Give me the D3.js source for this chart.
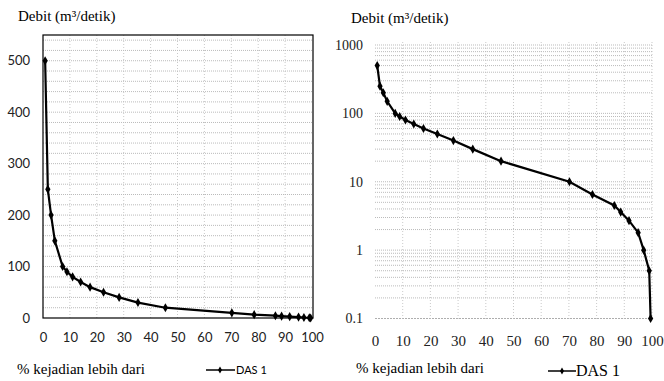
<!DOCTYPE html>
<html>
<head>
<meta charset="utf-8">
<script src="https://cdn.jsdelivr.net/npm/d3@7"></script>
<style>
  body { margin: 0; background: #fff; }
  svg { display: block; }
</style>
</head>
<body>
<svg id="chart" width="664" height="381"></svg>
<script>
// flow duration curve, DAS 1
const pct = [0.8, 1.8, 3, 4.4, 7.3, 8.9, 11, 14, 17.5, 22.5, 28.3, 35.3, 45.5, 70.2, 78.5, 86.4, 88.7, 91.7, 95, 97, 99, 99.5];
const debit = [500, 250, 200, 150, 100, 90, 80, 70, 60, 50, 40, 30, 20, 10, 6.5, 4.5, 3.6, 2.7, 1.8, 1, 0.5, 0.1];

const xTicks = [0, 10, 20, 30, 40, 50, 60, 70, 80, 90, 100];
const linYTicks = [0, 100, 200, 300, 400, 500];
const logYTicks = [0.1, 1, 10, 100, 1000];

const titleText = 'Debit (m³/detik)';
const xLabelText = '% kejadian lebih dari';
const seriesName = 'DAS 1';

const SERIF = 'Liberation Serif';
const SANS = 'Lato';

const points = pct.map((p, i) => ({ x: p, y: debit[i] }));
const svg = d3.select('#chart');

// ---------- left chart (linear) ----------
const xL = d3.scaleLinear().domain([0, 100]).range([43, 312]);
const yL = d3.scaleLinear().domain([0, 550]).range([318, 35]);

const gL = svg.append('g');

// gridlines
gL.selectAll('.hgrid')
  .data(d3.range(20, 550, 20))
  .enter().append('line')
  .attr('x1', 43).attr('x2', 313)
  .attr('y1', d => yL(d)).attr('y2', d => yL(d))
  .attr('stroke', '#aaa').attr('stroke-width', 0.8)
  .attr('stroke-dasharray', '1,1');

gL.selectAll('.vgrid')
  .data(xTicks.slice(1, -1))
  .enter().append('line')
  .attr('x1', d => xL(d)).attr('x2', d => xL(d))
  .attr('y1', 35).attr('y2', 318)
  .attr('stroke', '#bbb').attr('stroke-width', 0.8)
  .attr('stroke-dasharray', '1,2');

gL.append('rect')
  .attr('x', 43).attr('y', 35)
  .attr('width', 270).attr('height', 283)
  .attr('fill', 'none').attr('stroke', '#000').attr('stroke-width', 1.2);

gL.append('g')
  .attr('transform', 'translate(33,0)')
  .call(d3.axisLeft(yL).tickValues(linYTicks).tickSize(0))
  .call(g => g.select('.domain').remove())
  .attr('font-family', SANS).attr('font-size', 13)
  .selectAll('text').attr('fill', '#222');

gL.append('g')
  .attr('transform', 'translate(0,330)')
  .call(d3.axisBottom(xL).tickValues(xTicks).tickSize(0))
  .call(g => g.select('.domain').remove())
  .attr('font-family', SANS).attr('font-size', 13)
  .selectAll('text').attr('fill', '#222');

const lineL = d3.line().x(d => xL(d.x)).y(d => yL(d.y));
gL.append('path').datum(points)
  .attr('d', lineL).attr('fill', 'none')
  .attr('stroke', '#000').attr('stroke-width', 2.2);

gL.selectAll('.mk')
  .data(points)
  .enter().append('path')
  .attr('transform', d => `translate(${xL(d.x)},${yL(d.y)})`)
  .attr('d', d3.symbol(d3.symbolDiamond).size(24))
  .attr('fill', '#000');

gL.append('text')
  .attr('x', 18).attr('y', 21)
  .attr('font-family', SERIF).attr('font-size', 15)
  .text(titleText);

gL.append('text')
  .attr('x', 17).attr('y', 374)
  .attr('font-family', SERIF).attr('font-size', 15)
  .text(xLabelText);

gL.append('line')
  .attr('x1', 206).attr('x2', 235).attr('y1', 370).attr('y2', 370)
  .attr('stroke', '#000').attr('stroke-width', 1.5);
gL.append('path')
  .attr('transform', 'translate(220,370)')
  .attr('d', d3.symbol(d3.symbolDiamond).size(14));
gL.append('text')
  .attr('x', 236).attr('y', 374)
  .attr('font-family', SANS).attr('font-size', 11)
  .text(seriesName);

// ---------- right chart (log) ----------
const xR = d3.scaleLinear().domain([0, 100]).range([375, 652]);
const yR = d3.scaleLog().domain([0.1, 1000]).range([318.5, 45]);

const gR = svg.append('g');

gR.selectAll('.hgrid')
  .data(yR.ticks().filter(v => v > 0.1 && v <= 1000))
  .enter().append('line')
  .attr('x1', 375).attr('x2', 652)
  .attr('y1', d => yR(d)).attr('y2', d => yR(d))
  .attr('stroke', '#aaa').attr('stroke-width', 0.8)
  .attr('stroke-dasharray', '1,1');

gR.append('line')
  .attr('x1', 375).attr('x2', 652)
  .attr('y1', yR(0.1)).attr('y2', yR(0.1))
  .attr('stroke', '#999').attr('stroke-width', 0.8)
  .attr('stroke-dasharray', '2,1');

gR.selectAll('.vgrid')
  .data(xTicks.slice(1))
  .enter().append('line')
  .attr('x1', d => xR(d)).attr('x2', d => xR(d))
  .attr('y1', 42).attr('y2', 320)
  .attr('stroke', '#bbb').attr('stroke-width', 0.8)
  .attr('stroke-dasharray', '1,2');

gR.append('g')
  .attr('transform', 'translate(366,0)')
  .call(d3.axisLeft(yR).tickValues(logYTicks).tickFormat(d => String(d)).tickSize(0))
  .call(g => g.select('.domain').remove())
  .attr('font-family', SERIF).attr('font-size', 14)
  .selectAll('text').attr('fill', '#222');

gR.append('g')
  .attr('transform', 'translate(0,332)')
  .call(d3.axisBottom(xR).tickValues(xTicks).tickSize(0))
  .call(g => g.select('.domain').remove())
  .attr('font-family', SERIF).attr('font-size', 15)
  .selectAll('text').attr('fill', '#222');

const lineR = d3.line().x(d => xR(d.x)).y(d => yR(d.y));
gR.append('path').datum(points)
  .attr('d', lineR).attr('fill', 'none')
  .attr('stroke', '#000').attr('stroke-width', 2.2);

gR.selectAll('.mk')
  .data(points)
  .enter().append('path')
  .attr('transform', d => `translate(${xR(d.x)},${yR(d.y)})`)
  .attr('d', d3.symbol(d3.symbolDiamond).size(24))
  .attr('fill', '#000');

gR.append('text')
  .attr('x', 351).attr('y', 23)
  .attr('font-family', SERIF).attr('font-size', 15)
  .text(titleText);

gR.append('text')
  .attr('x', 356).attr('y', 373)
  .attr('font-family', SERIF).attr('font-size', 15)
  .text(xLabelText);

gR.append('line')
  .attr('x1', 548).attr('x2', 576).attr('y1', 371).attr('y2', 371)
  .attr('stroke', '#000').attr('stroke-width', 1.5);
gR.append('path')
  .attr('transform', 'translate(562,371)')
  .attr('d', d3.symbol(d3.symbolDiamond).size(14));
gR.append('text')
  .attr('x', 576).attr('y', 376)
  .attr('font-family', SERIF).attr('font-size', 16)
  .text(seriesName);
</script>
</body>
</html>
